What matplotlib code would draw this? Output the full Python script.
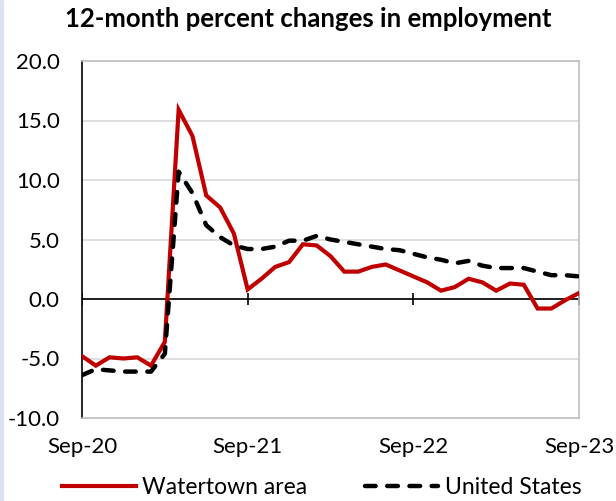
import matplotlib.pyplot as plt
from matplotlib.patches import Rectangle
from matplotlib.lines import Line2D

plt.rcParams['font.family'] = ['Lato', 'DejaVu Sans']

# monthly series, Sep-20 through Sep-23
months = list(range(37))
tick_pos = [0, 12, 24, 36]
tick_labels = ['Sep-20', 'Sep-21', 'Sep-22', 'Sep-23']

watertown = [-4.8, -5.6, -4.9, -5.0, -4.9, -5.6, -3.6, 15.9, 13.7, 8.7, 7.7, 5.5,
             0.8, 1.7, 2.7, 3.1, 4.6, 4.5, 3.6, 2.3, 2.3, 2.7, 2.9, 2.4,
             1.9, 1.4, 0.7, 1.0, 1.7, 1.4, 0.7, 1.3, 1.2, -0.8, -0.8, -0.1,
             0.5]
united_states = [-6.4, -5.9, -6.0, -6.1, -6.1, -6.1, -4.6, 10.7, 8.9, 6.2, 5.2, 4.5,
                 4.2, 4.2, 4.4, 4.9, 4.9, 5.3, 5.0, 4.8, 4.6, 4.4, 4.2, 4.1,
                 3.8, 3.5, 3.3, 3.0, 3.2, 2.8, 2.6, 2.6, 2.6, 2.3, 2.0, 2.0,
                 1.9]

W, H = 616, 501
fig = plt.figure(figsize=(W / 100, H / 100), dpi=100)
fig.patches.append(Rectangle((0, 0), 3 / W, 1, transform=fig.transFigure,
                             color='#dae3f3', zorder=0))

ax = fig.add_axes([82 / W, 1 - 418 / H, (579 - 82) / W, (418 - 61) / H])

red = '#c00000'
ax.plot(months, watertown, color=red, lw=3.0, solid_joinstyle='miter', zorder=3)
ax.plot(months, united_states, color='black', lw=3.2, dashes=(2.4, 2.6),
        dash_capstyle='round', zorder=4)

ax.set_xlim(0, 36)
ax.set_ylim(-10, 20)
ax.set_yticks([-10, -5, 0, 5, 10, 15, 20])
ax.yaxis.set_major_formatter(lambda v, p: f'{v:.1f}')
ax.yaxis.grid(True, color='#d9d9d9', lw=1.2)
ax.set_axisbelow(True)

# zero line with category ticks
ax.axhline(0, color='black', lw=1.2, zorder=2)
ax.plot(tick_pos, [0] * len(tick_pos), linestyle='none', marker='|',
        markersize=9, markeredgewidth=1.2, color='black', zorder=2)

ax.set_xticks(tick_pos, tick_labels)
ax.tick_params(axis='x', length=0, pad=14, labelsize=16)
ax.tick_params(axis='y', length=0, pad=16, labelsize=16)

for side in ['top', 'right', 'bottom']:
    ax.spines[side].set_color('#bfbfbf')
    ax.spines[side].set_linewidth(1.2)
ax.spines['left'].set_color('black')
ax.spines['left'].set_linewidth(1.2)

fig.text(308 / W, 1 - 19 / H, '12-month percent changes in employment',
         ha='center', va='center', fontsize=18.5, fontweight='bold')

handles = [Line2D([], [], color=red, lw=3.0),
           Line2D([], [], color='black', lw=3.2, dashes=(2.4, 2.6),
                  dash_capstyle='round')]
fig.legend(handles, ['Watertown area', 'United States'], loc='center',
           bbox_to_anchor=(322 / W, 1 - 488 / H), ncol=2, frameon=False,
           fontsize=16.5, handlelength=3.2, handletextpad=0.3,
           columnspacing=2.5, borderpad=0, borderaxespad=0)

fig.savefig('out.png', dpi=100)
